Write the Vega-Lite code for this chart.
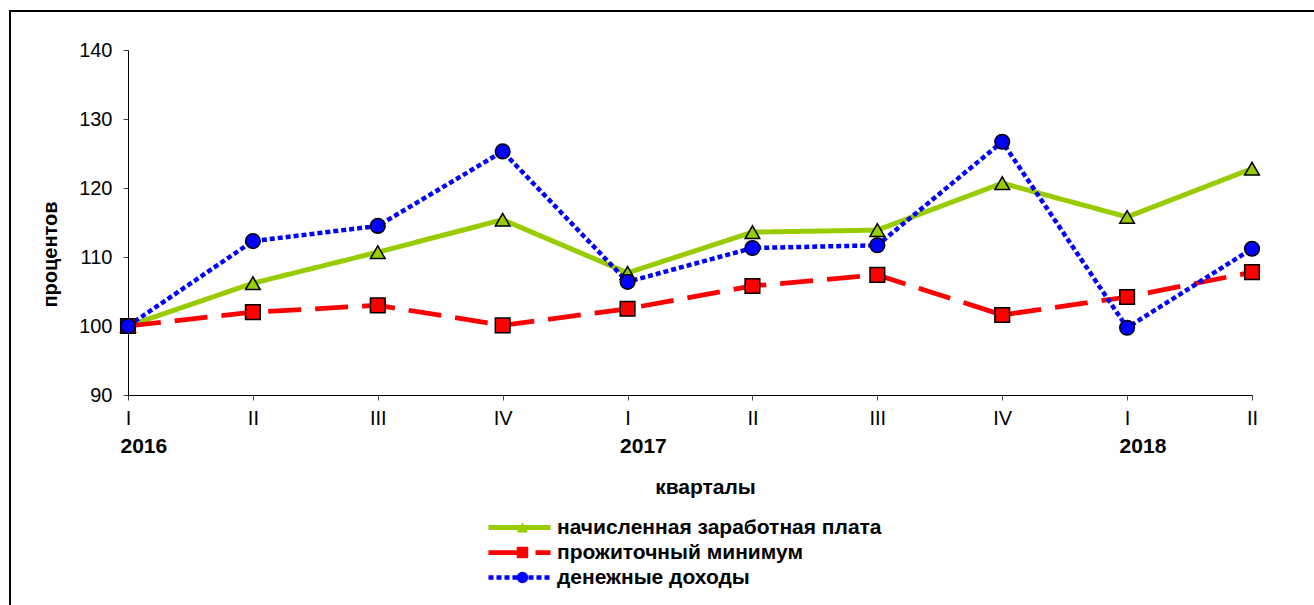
{
  "$schema": "https://vega.github.io/schema/vega-lite/v6.json",
  "width": 1304,
  "height": 594,
  "autosize": {"type": "none"},
  "padding": {"left": 10, "top": 11, "right": 0, "bottom": 0},
  "background": "white",
  "config": {
    "view": {"stroke": "black", "strokeWidth": 2, "strokeDash": [1304, 1898, 594, 10]},
    "font": "Liberation Sans"
  },
  "data": {
    "values": [
      {"q": "2016-I", "key": "wage", "series": "начисленная заработная плата", "v": 100},
      {"q": "2016-II", "key": "wage", "series": "начисленная заработная плата", "v": 106.2},
      {"q": "2016-III", "key": "wage", "series": "начисленная заработная плата", "v": 110.7},
      {"q": "2016-IV", "key": "wage", "series": "начисленная заработная плата", "v": 115.4},
      {"q": "2017-I", "key": "wage", "series": "начисленная заработная плата", "v": 107.7},
      {"q": "2017-II", "key": "wage", "series": "начисленная заработная плата", "v": 113.6},
      {"q": "2017-III", "key": "wage", "series": "начисленная заработная плата", "v": 113.9},
      {"q": "2017-IV", "key": "wage", "series": "начисленная заработная плата", "v": 120.7},
      {"q": "2018-I", "key": "wage", "series": "начисленная заработная плата", "v": 115.8},
      {"q": "2018-II", "key": "wage", "series": "начисленная заработная плата", "v": 122.8},
      {"q": "2016-I", "key": "min", "series": "прожиточный минимум", "v": 100},
      {"q": "2016-II", "key": "min", "series": "прожиточный минимум", "v": 102.0},
      {"q": "2016-III", "key": "min", "series": "прожиточный минимум", "v": 103.0},
      {"q": "2016-IV", "key": "min", "series": "прожиточный минимум", "v": 100.1},
      {"q": "2017-I", "key": "min", "series": "прожиточный минимум", "v": 102.5},
      {"q": "2017-II", "key": "min", "series": "прожиточный минимум", "v": 105.8},
      {"q": "2017-III", "key": "min", "series": "прожиточный минимум", "v": 107.4},
      {"q": "2017-IV", "key": "min", "series": "прожиточный минимум", "v": 101.6},
      {"q": "2018-I", "key": "min", "series": "прожиточный минимум", "v": 104.2},
      {"q": "2018-II", "key": "min", "series": "прожиточный минимум", "v": 107.8},
      {"q": "2016-I", "key": "inc", "series": "денежные доходы", "v": 100},
      {"q": "2016-II", "key": "inc", "series": "денежные доходы", "v": 112.3},
      {"q": "2016-III", "key": "inc", "series": "денежные доходы", "v": 114.5},
      {"q": "2016-IV", "key": "inc", "series": "денежные доходы", "v": 125.3},
      {"q": "2017-I", "key": "inc", "series": "денежные доходы", "v": 106.4},
      {"q": "2017-II", "key": "inc", "series": "денежные доходы", "v": 111.3},
      {"q": "2017-III", "key": "inc", "series": "денежные доходы", "v": 111.7},
      {"q": "2017-IV", "key": "inc", "series": "денежные доходы", "v": 126.7},
      {"q": "2018-I", "key": "inc", "series": "денежные доходы", "v": 99.75},
      {"q": "2018-II", "key": "inc", "series": "денежные доходы", "v": 111.2}
    ]
  },
  "encoding": {
    "y": {
      "field": "v",
      "type": "quantitative",
      "scale": {"domain": [90, 140], "zero": false, "nice": false, "range": [384, 39]},
      "axis": {
        "title": "процентов",
        "offset": -118,
        "values": [90, 100, 110, 120, 130, 140],
        "grid": false,
        "tickSize": 5,
        "tickColor": "#444444",
        "domainColor": "black",
        "labelFontSize": 20,
        "labelColor": "black",
        "labelPadding": 11,
        "titleFontSize": 20,
        "titleFontWeight": "bold",
        "titleColor": "black",
        "titleAngle": -90,
        "titleX": -72,
        "titleY": 243,
        "titleBaseline": "alphabetic",
        "titleAlign": "center"
      }
    }
  },
  "layer": [
    {
      "mark": {"type": "line", "strokeCap": "butt"},
      "encoding": {
        "x": {
          "field": "q",
          "type": "ordinal",
          "sort": null,
          "scale": {"type": "point", "padding": 0, "range": [118, 1242]},
          "axis": {
            "orient": "bottom",
            "offset": -210,
            "title": null,
            "labelExpr": "split(datum.value,'-')[1]",
            "labelAngle": 0,
            "labelFontSize": 20,
            "labelColor": "black",
            "labelPadding": 8,
            "tickSize": 5,
            "tickColor": "#444444",
            "domainColor": "black",
            "grid": false
          }
        },
        "stroke": {
          "field": "series",
          "type": "nominal",
          "scale": {
            "domain": ["начисленная заработная плата", "прожиточный минимум", "денежные доходы"],
            "range": ["#99CC00", "#FF0000", "#0000FF"]
          },
          "legend": {
            "orient": "none",
            "legendX": 499,
            "legendY": 506,
            "title": null,
            "symbolType": "M-5,0H5",
            "symbolSize": 154,
            "symbolFillColor": "transparent",
            "labelFontSize": 21,
            "labelFontWeight": "bold",
            "labelColor": "black",
            "labelLimit": 0,
            "labelOffset": 27,
            "rowPadding": 3
          }
        },
        "strokeDash": {
          "field": "series",
          "type": "nominal",
          "scale": {
            "domain": ["начисленная заработная плата", "прожиточный минимум", "денежные доходы"],
            "range": [[1, 0], [33, 14], [5, 3]]
          }
        },
        "strokeWidth": {
          "field": "series",
          "type": "nominal",
          "scale": {
            "domain": ["начисленная заработная плата", "прожиточный минимум", "денежные доходы"],
            "range": [5, 4.5, 1.6]
          }
        }
      }
    },
    {
      "mark": {"type": "point", "filled": true, "stroke": "black", "strokeWidth": 1.5, "opacity": 1, "size": 215},
      "encoding": {
        "x": {
          "field": "q",
          "type": "ordinal",
          "sort": null,
          "scale": {"type": "point", "padding": 0, "range": [118, 1242]},
          "axis": {
            "orient": "bottom",
            "offset": -210,
            "title": "кварталы",
            "labelExpr": "split(datum.value,'-')[1]=='I' ? split(datum.value,'-')[0] : ''",
            "labelAngle": 0,
            "labelAlign": "left",
            "labelOffset": -8,
            "labelFontSize": 21,
            "labelFontWeight": "bold",
            "labelColor": "black",
            "labelPadding": 40,
            "ticks": false,
            "domain": false,
            "grid": false,
            "titleFontSize": 21,
            "titleFontWeight": "bold",
            "titleColor": "black",
            "titleX": 695,
            "titleY": 92,
            "titleBaseline": "middle"
          }
        },
        "shape": {
          "field": "key",
          "type": "nominal",
          "scale": {"domain": ["wage", "min", "inc"], "range": ["triangle-up", "square", "circle"]},
          "legend": {
            "orient": "none",
            "legendX": 502,
            "legendY": 506,
            "title": null,
            "symbolSize": 130,
            "symbolStrokeColor": "black",
            "symbolStrokeWidth": 1.5,
            "labelExpr": "''",
            "labelFontSize": 21,
            "rowPadding": 3
          }
        },
        "fill": {
          "field": "key",
          "type": "nominal",
          "scale": {"domain": ["wage", "min", "inc"], "range": ["#99CC00", "#FF0000", "#0000FF"]}
        }
      }
    }
  ],
  "resolve": {"axis": {"x": "independent"}}
}
